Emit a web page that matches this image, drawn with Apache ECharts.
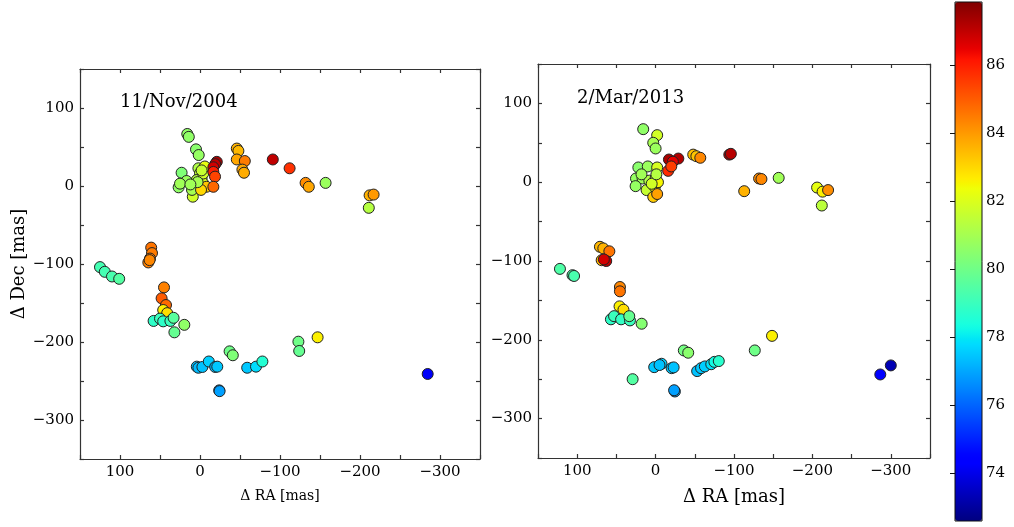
<!DOCTYPE html>
<html style="height: 100%">
<head>
    <meta charset="utf-8">
</head>
<body style="height: 100%; margin: 0; background: #fff">
    <div id="container" style="width: 1014px; height: 527px"></div>
    <script src="https://cdn.jsdelivr.net/npm/echarts@6/dist/echarts.min.js"></script>
    <script type="text/javascript">
        // [delta RA, delta Dec, colour value]
        var nov2004 = [
            [15.9, 66.7, 80.6], [14, 63, 80.6], [5, 47, 80.5], [1.6, 39.7, 80.7],
            [23, 17, 80.3], [16.7, 6.4, 80.8], [26.7, -1.7, 80.6], [25, 3, 80.9], [9, -13.7, 81.8],
            [2, 22.7, 81.2], [0, 16.3, 81.5], [-2, 10, 81.7], [4, 7.7, 81.3], [0, 1.3, 81.6],
            [-4, 3.4, 81.9], [6, -1, 81.4], [10, -5, 81.0], [-8, -1, 83.3], [-4, 16, 81.8],
            [-6, 25, 82.2], [-1.3, -5, 83.0], [3, 5, 81.0], [12, 2, 80.9], [-2, 20, 81.6],
            [-21, 31, 87.3], [-19, 28, 87.0], [-16.7, 24, 86.8], [-16.7, 18, 86.0],
            [-18.8, 12, 85.4], [-16.7, -1, 84.8],
            [-46, 48, 83.6], [-48, 45, 83.5], [-46, 34, 83.8], [-56, 32, 84.5], [-53, 21, 83.8], [-55, 17, 83.7],
            [-91, 34, 87.0], [-112, 22.7, 85.7], [-132, 4, 84.2], [-136, -1, 83.8], [-157, 4, 80.8],
            [-212, -12, 83.6], [-217, -11, 84.0], [-211, -28, 81.3],
            [125, -104, 79.2], [119, -110, 79.2], [110, -116, 79.3], [101, -119, 79.5],
            [61, -79, 84.6], [60, -86, 84.5], [62.5, -93, 84.5], [64.6, -98, 84.4], [63, -95, 84.3],
            [45, -130, 84.4], [48, -144, 85.0], [42.5, -152.6, 84.8], [46, -159, 82.6], [41, -163, 82.9],
            [58, -173, 78.8], [50, -170, 79.0], [46, -173.5, 78.8], [37, -173, 79.0], [33, -169, 79.6],
            [19.6, -178, 80.6], [32, -187.6, 79.8],
            [-37, -212, 80.0], [-41, -217, 80.3],
            [4, -231.6, 77.4], [2, -233, 77.3], [-3, -232, 77.4], [-11, -225, 77.6], [-19, -232, 77.3], [-21.6, -231.6, 77.5],
            [-24, -262, 76.9], [-24.5, -263, 76.9],
            [-59, -233, 77.5], [-70, -231.6, 77.8], [-78, -225, 78.6],
            [-123, -199.6, 80.0], [-124, -211.5, 79.8], [-147, -194, 82.6],
            [-284.6, -241, 74.2]
        ];
        var mar2013 = [
            [15.8, 67.3, 80.6], [-2, 59.7, 81.8], [3, 50, 81.0], [0, 42.8, 80.8],
            [-17, 28.8, 87.3], [-29, 30, 87.2], [-22, 26, 86.5], [-16, 14.4, 85.8], [-20, 20, 85.5],
            [-48, 35, 83.4], [-52, 33, 83.3], [-57, 31, 84.3],
            [-94, 35, 87.3], [-96, 36, 87.1],
            [-132, 4.7, 84.2], [-135, 4, 84.3], [-157, 5.5, 80.9], [-113, -11.4, 83.6],
            [-206, -6.8, 82.2], [-213, -12, 82.6], [-220, -10, 84.2], [-212, -29.6, 81.4],
            [22, 18.7, 80.5], [10, 20, 80.8], [-2, 18.7, 81.9], [25, 4.7, 80.7], [16.6, 4.7, 80.9],
            [25.5, -5, 80.7], [11.5, -10, 81.6], [1, -6, 82.4], [3, -18.7, 83.2], [-2, -15, 83.9],
            [8, 2, 81.2], [0, 5, 81.5], [-3, 0, 82.5], [5, -2, 81.8], [18, 10, 80.9], [-1, 10, 81.3],
            [71, -82, 83.5], [66.7, -84, 83.6], [59, -87.7, 84.6],
            [68.8, -99, 83.6], [63, -100, 87.0], [66, -98, 86.8],
            [122, -110, 79.4], [106, -118, 79.4], [104, -119, 79.3],
            [45.5, -133, 84.3], [45.5, -138.5, 84.6], [46, -157.6, 82.6], [41, -161.8, 82.9],
            [57, -174, 78.8], [53, -170, 79.0], [44, -174, 78.9], [32.7, -175.4, 79.0], [33.6, -170, 79.8],
            [17.8, -179.6, 80.4], [29.3, -250, 79.5],
            [-36, -213.5, 80.1], [-41.6, -216.4, 80.5],
            [1.8, -234.7, 77.5], [-7.6, -230.4, 77.6], [-5, -232, 77.4], [-20.4, -236, 77.5], [-23, -235, 77.4],
            [-24.6, -265.6, 76.9], [-23.6, -264, 76.9],
            [-53, -239.7, 77.4], [-58, -236, 77.5], [-62.8, -233.8, 77.6], [-71, -231, 77.9], [-75, -228, 78.3], [-80.6, -227, 78.7],
            [-126.5, -213.5, 80.0], [-148.5, -195, 82.6],
            [-286.6, -244, 74.3], [-300, -232.5, 73.3]
        ];
        var titles = ['11/Nov/2004', '2/Mar/2013'];
        var colorTicks = [74, 76, 78, 80, 82, 84, 86];
        var colorMin = 72.6, colorMax = 87.85;

        // jet colormap
        var jetR = [[0, 0], [0.35, 0], [0.66, 1], [0.89, 1], [1, 0.5]];
        var jetG = [[0, 0], [0.125, 0], [0.375, 1], [0.64, 1], [0.91, 0], [1, 0]];
        var jetB = [[0, 0.5], [0.11, 1], [0.34, 1], [0.65, 0], [1, 0]];
        function lerp(pts, t) {
            for (var i = 1; i < pts.length; i++) {
                if (t <= pts[i][0]) {
                    var a = pts[i - 1], b = pts[i];
                    return a[1] + (b[1] - a[1]) * (t - a[0]) / (b[0] - a[0]);
                }
            }
            return pts[pts.length - 1][1];
        }
        var jetColors = [];
        for (var i = 0; i <= 100; i++) {
            var t = i / 100;
            jetColors.push('rgb(' + Math.round(255 * lerp(jetR, t)) + ',' +
                Math.round(255 * lerp(jetG, t)) + ',' + Math.round(255 * lerp(jetB, t)) + ')');
        }

        var font = 'DejaVu Serif';
        function fmt(v) {
            if (v % 100 !== 0) return '';
            return v < 0 ? '\u2212' + Math.abs(v) : String(v);
        }
        var lineStyle = { color: '#333', width: 1.2 };

        function mainAxis(gi, pos, name, nameSize) {
            return {
                gridIndex: gi, type: 'value', position: pos,
                min: -350, max: 150, interval: 50,
                inverse: pos === 'bottom' || pos === 'top',
                name: name || '', nameLocation: 'middle',
                nameGap: (pos === 'left') ? 52 : 30,
                nameTextStyle: { fontFamily: font, fontSize: nameSize || 14, color: '#000' },
                axisLine: { show: true, onZero: false, lineStyle: lineStyle },
                axisTick: { show: true, inside: true, length: 4, lineStyle: lineStyle },
                axisLabel: {
                    show: pos === 'bottom' || pos === 'left',
                    formatter: fmt, fontFamily: font, fontSize: 15, color: '#000', margin: 6
                },
                splitLine: { show: false }
            };
        }

        var dom = document.getElementById('container');
        var myChart = echarts.init(dom);
        var option = {
            backgroundColor: '#fff',
            animation: false,
            title: [
                { text: titles[0], left: 115, top: 88, textStyle: { fontFamily: font, fontSize: 18, fontWeight: 'normal', color: '#000' } },
                { text: titles[1], left: 572, top: 84, textStyle: { fontFamily: font, fontSize: 18, fontWeight: 'normal', color: '#000' } }
            ],
            grid: [
                { left: 80, top: 69, width: 400, height: 390 },
                { left: 538, top: 64, width: 392, height: 394 },
                { left: 955, top: 2, width: 27, height: 519, show: true, borderColor: '#111', borderWidth: 1, z: 10 }
            ],
            xAxis: [
                mainAxis(0, 'bottom', '\u0394 RA [mas]', 14),
                mainAxis(0, 'top'),
                mainAxis(1, 'bottom', '\u0394 RA [mas]', 18),
                mainAxis(1, 'top'),
                { gridIndex: 2, type: 'value', show: false, min: 0, max: 1 }
            ],
            yAxis: [
                mainAxis(0, 'left', '\u0394 Dec [mas]', 18),
                mainAxis(0, 'right'),
                mainAxis(1, 'left'),
                mainAxis(1, 'right'),
                {
                    gridIndex: 2, type: 'value', position: 'right', min: colorMin, max: colorMax, z: 10,
                    axisLine: { show: false },
                    axisTick: { show: true, inside: true, length: 5, customValues: colorTicks, lineStyle: { color: '#111' } },
                    axisLabel: { show: true, customValues: colorTicks, fontFamily: font, fontSize: 15, color: '#000', margin: 4 },
                    splitLine: { show: false }
                }
            ],
            visualMap: {
                type: 'continuous',
                dimension: 2,
                seriesIndex: [0, 1],
                min: colorMin, max: colorMax,
                left: 955, top: 2, padding: 0,
                itemWidth: 27, itemHeight: 519,
                calculable: false, text: null, showLabel: false,
                inRange: { color: jetColors },
                z: 1
            },
            series: [
                {
                    type: 'scatter', xAxisIndex: 0, yAxisIndex: 0, data: nov2004,
                    symbolSize: 11, itemStyle: { borderColor: '#222', borderWidth: 1, opacity: 1 }
                },
                {
                    type: 'scatter', xAxisIndex: 2, yAxisIndex: 2, data: mar2013,
                    symbolSize: 11, itemStyle: { borderColor: '#222', borderWidth: 1, opacity: 1 }
                }
            ]
        };
        myChart.setOption(option);
    </script>
</body>
</html>
